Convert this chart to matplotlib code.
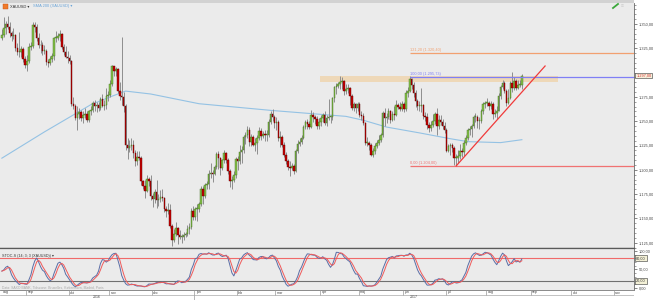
import matplotlib
matplotlib.use('Agg')
import matplotlib.pyplot as plt
from matplotlib.patches import Rectangle
from matplotlib.lines import Line2D
from matplotlib import ticker
import numpy as np
import pandas as pd

plt.rcParams['font.family'] = ['Liberation Sans', 'DejaVu Sans']

# XAUUSD daily candles, 15 Aug 2016 - 25 Aug 2017 (one row = one week)
opens = [
    1336, 1339, 1346, 1350, 1347,  1341, 1338, 1339, 1325, 1321,
    1321, 1324, 1314, 1308, 1312,  1326, 1327, 1349, 1347, 1336,
    1328, 1328, 1322, 1322, 1311,  1310, 1314, 1317, 1336, 1336,
    1338, 1340, 1326, 1321, 1316,  1315, 1312, 1268, 1266, 1253,
    1257, 1259, 1253, 1256, 1257,  1251, 1260, 1262, 1269, 1266,
    1267, 1264, 1273, 1266, 1267,  1276, 1277, 1288, 1307, 1302,
    1304, 1281, 1276, 1275, 1266,  1226, 1222, 1225, 1226, 1217,
    1209, 1213, 1212, 1189, 1183,  1178, 1191, 1188, 1173, 1170,
    1177, 1169, 1170, 1172, 1171,  1160, 1158, 1159, 1142, 1128,
    1134, 1140, 1133, 1131, 1131,  1133, 1134, 1139, 1141, 1158,
    1151, 1160, 1160, 1165, 1180,  1173, 1184, 1185, 1196, 1197,
    1196, 1203, 1216, 1212, 1202,  1210, 1217, 1210, 1199, 1188,
    1190, 1195, 1211, 1209, 1218,  1220, 1234, 1236, 1241, 1229,
    1234, 1226, 1228, 1233, 1240,  1235, 1237, 1236, 1236, 1249,
    1257, 1254, 1248, 1249, 1233,  1234, 1226, 1215, 1209, 1203,
    1202, 1204, 1199, 1219, 1227,  1229, 1233, 1244, 1249, 1247,
    1244, 1256, 1254, 1252, 1245,  1249, 1253, 1256, 1248, 1253,
    1254, 1254, 1274, 1285, 1286,  1288, 1290, 1291, 1281, 1283,
    1284, 1276, 1264, 1268, 1264,  1268, 1256, 1255, 1248, 1228,
    1228, 1226, 1215, 1219, 1225,  1228, 1231, 1236, 1258, 1253,
    1254, 1261, 1251, 1257, 1256,  1267, 1265, 1263, 1268, 1263,
    1279, 1281, 1293, 1287, 1279,  1271, 1266, 1266, 1267, 1255,
    1254, 1246, 1243, 1246, 1250,  1257, 1245, 1251, 1249, 1245,
    1241, 1219, 1224, 1226, 1222,  1212, 1212, 1214, 1219, 1218,
    1228, 1233, 1241, 1242, 1245,  1254, 1254, 1250, 1250, 1260,
    1268, 1269, 1269, 1266, 1268,  1257, 1258, 1261, 1276, 1285,
    1289, 1281, 1269, 1274, 1289,  1284, 1291, 1284, 1287, 1287,
]
highs = [
    1345, 1357, 1353, 1358, 1352,  1343, 1346, 1340, 1330, 1342,
    1327, 1326, 1317, 1318, 1330,  1331, 1352, 1352, 1350, 1341,
    1334, 1331, 1328, 1324, 1314,  1317, 1320, 1337, 1343, 1341,
    1344, 1341, 1329, 1327, 1322,  1318, 1313, 1275, 1268, 1266,
    1264, 1262, 1260, 1264, 1261,  1262, 1266, 1271, 1272, 1270,
    1270, 1275, 1278, 1272, 1284,  1281, 1292, 1308, 1307, 1306,
    1305, 1290, 1337, 1280, 1268,  1233, 1231, 1233, 1231, 1220,
    1219, 1219, 1214, 1190, 1190,  1195, 1193, 1195, 1176, 1180,
    1190, 1175, 1179, 1180, 1172,  1163, 1166, 1165, 1144, 1139,
    1146, 1141, 1138, 1134, 1136,  1136, 1143, 1145, 1161, 1163,
    1162, 1165, 1167, 1183, 1183,  1186, 1189, 1200, 1207, 1200,
    1205, 1218, 1219, 1213, 1211,  1220, 1218, 1212, 1201, 1194,
    1199, 1213, 1214, 1226, 1224,  1236, 1239, 1245, 1244, 1237,
    1236, 1233, 1236, 1244, 1243,  1240, 1241, 1241, 1252, 1260,
    1263, 1256, 1254, 1251, 1240,  1236, 1229, 1218, 1211, 1209,
    1207, 1206, 1221, 1231, 1233,  1236, 1246, 1251, 1252, 1250,
    1262, 1259, 1256, 1255, 1253,  1256, 1258, 1260, 1256, 1273,
    1256, 1275, 1286, 1289, 1290,  1296, 1295, 1292, 1288, 1288,
    1285, 1278, 1270, 1269, 1270,  1270, 1260, 1258, 1249, 1234,
    1230, 1228, 1222, 1228, 1231,  1236, 1238, 1260, 1264, 1258,
    1264, 1262, 1260, 1266, 1272,  1269, 1270, 1271, 1270, 1282,
    1285, 1296, 1294, 1290, 1282,  1273, 1271, 1284, 1268, 1259,
    1258, 1249, 1250, 1257, 1259,  1264, 1256, 1256, 1252, 1249,
    1243, 1227, 1228, 1228, 1225,  1216, 1220, 1227, 1222, 1231,
    1236, 1243, 1245, 1247, 1256,  1258, 1256, 1254, 1263, 1270,
    1271, 1274, 1271, 1271, 1270,  1263, 1266, 1279, 1287, 1292,
    1291, 1283, 1283, 1291, 1301,  1295, 1293, 1292, 1292, 1299,
]
lows = [
    1334, 1337, 1340, 1345, 1337,  1332, 1335, 1322, 1318, 1316,
    1316, 1311, 1305, 1302, 1310,  1323, 1325, 1342, 1332, 1325,
    1320, 1318, 1319, 1308, 1306,  1308, 1311, 1313, 1331, 1334,
    1333, 1324, 1318, 1315, 1310,  1309, 1266, 1263, 1251, 1241,
    1252, 1250, 1248, 1253, 1249,  1249, 1256, 1259, 1261, 1259,
    1261, 1262, 1265, 1262, 1263,  1271, 1275, 1286, 1297, 1296,
    1279, 1272, 1267, 1259, 1220,  1211, 1218, 1220, 1212, 1204,
    1205, 1210, 1184, 1180, 1171,  1177, 1183, 1169, 1162, 1166,
    1161, 1163, 1167, 1168, 1157,  1151, 1155, 1140, 1122, 1126,
    1132, 1124, 1129, 1125, 1128,  1131, 1132, 1134, 1139, 1148,
    1148, 1147, 1157, 1163, 1165,  1171, 1180, 1180, 1192, 1187,
    1195, 1201, 1201, 1195, 1200,  1207, 1207, 1196, 1182, 1180,
    1187, 1192, 1200, 1206, 1207,  1217, 1227, 1233, 1225, 1225,
    1224, 1219, 1216, 1231, 1231,  1233, 1230, 1230, 1234, 1247,
    1250, 1243, 1241, 1230, 1223,  1223, 1213, 1206, 1200, 1194,
    1200, 1196, 1198, 1217, 1224,  1227, 1232, 1242, 1242, 1242,
    1243, 1249, 1247, 1242, 1242,  1245, 1249, 1246, 1245, 1251,
    1248, 1251, 1270, 1278, 1284,  1283, 1283, 1277, 1278, 1279,
    1267, 1262, 1260, 1258, 1260,  1254, 1251, 1246, 1226, 1224,
    1220, 1214, 1213, 1216, 1222,  1226, 1229, 1234, 1245, 1248,
    1252, 1248, 1250, 1251, 1255,  1263, 1260, 1261, 1259, 1261,
    1275, 1280, 1283, 1275, 1265,  1262, 1261, 1259, 1252, 1250,
    1242, 1239, 1240, 1244, 1247,  1236, 1242, 1246, 1242, 1238,
    1218, 1218, 1215, 1218, 1205,  1204, 1207, 1211, 1213, 1214,
    1226, 1231, 1236, 1234, 1243,  1249, 1243, 1242, 1248, 1257,
    1264, 1266, 1262, 1263, 1252,  1254, 1252, 1260, 1273, 1283,
    1279, 1266, 1268, 1273, 1280,  1282, 1282, 1283, 1285, 1283,
]
closes = [
    1339, 1346, 1350, 1347, 1341,  1338, 1339, 1325, 1321, 1321,
    1324, 1314, 1308, 1312, 1326,  1327, 1349, 1347, 1336, 1328,
    1328, 1322, 1322, 1311, 1310,  1314, 1317, 1336, 1336, 1338,
    1340, 1326, 1321, 1316, 1315,  1312, 1268, 1266, 1253, 1257,
    1259, 1253, 1256, 1257, 1251,  1260, 1262, 1269, 1266, 1267,
    1264, 1273, 1266, 1267, 1276,  1277, 1288, 1307, 1302, 1304,
    1281, 1276, 1275, 1266, 1226,  1222, 1225, 1226, 1217, 1209,
    1213, 1212, 1189, 1183, 1178,  1191, 1188, 1173, 1170, 1177,
    1169, 1170, 1172, 1171, 1160,  1158, 1159, 1142, 1128, 1134,
    1140, 1133, 1131, 1131, 1133,  1134, 1139, 1141, 1158, 1151,
    1160, 1160, 1165, 1180, 1173,  1184, 1185, 1196, 1197, 1196,
    1203, 1216, 1212, 1202, 1210,  1217, 1210, 1199, 1188, 1190,
    1195, 1211, 1209, 1218, 1220,  1234, 1236, 1241, 1229, 1234,
    1226, 1228, 1233, 1240, 1235,  1237, 1236, 1236, 1249, 1257,
    1254, 1248, 1249, 1233, 1234,  1226, 1215, 1209, 1203, 1202,
    1204, 1199, 1219, 1227, 1229,  1233, 1244, 1249, 1247, 1244,
    1256, 1254, 1252, 1245, 1249,  1253, 1256, 1248, 1253, 1254,
    1254, 1274, 1285, 1286, 1288,  1290, 1291, 1281, 1283, 1284,
    1276, 1264, 1268, 1264, 1268,  1256, 1255, 1248, 1228, 1228,
    1226, 1215, 1219, 1225, 1228,  1231, 1236, 1258, 1253, 1254,
    1261, 1251, 1257, 1256, 1267,  1265, 1263, 1268, 1263, 1279,
    1281, 1293, 1287, 1279, 1271,  1266, 1266, 1267, 1255, 1254,
    1246, 1243, 1246, 1250, 1257,  1245, 1251, 1249, 1245, 1241,
    1219, 1224, 1226, 1222, 1212,  1212, 1214, 1219, 1218, 1228,
    1233, 1241, 1242, 1245, 1254,  1254, 1250, 1250, 1260, 1268,
    1269, 1269, 1266, 1268, 1257,  1258, 1261, 1276, 1285, 1289,
    1281, 1269, 1274, 1289, 1284,  1291, 1284, 1287, 1287, 1297,
]

# SMA 200 (bar number, value)
sma_bars = [0, 22, 46, 56, 64, 77, 92, 102, 140, 159, 178, 187, 199, 216, 232, 241, 258, 269]
sma_values = [1212, 1239, 1267, 1275, 1281, 1278, 1272, 1268, 1261, 1258, 1255, 1251, 1244, 1238, 1232, 1229, 1228, 1231]

# drawing tools
fib_start = '2017-06-06'
fib_levels = [1204.00, 1295.73, 1320.40]
fib_texts = ['0,00 (1.204,00)', '100,00 (1.295,73)', '121,20 (1.320,40)']
fib_colors = ['#f07272', '#7f7ff5', '#f2a070']
zone_dates = ['2017-04-03', '2017-09-21']
zone_prices = [1290.5, 1296.5]
trend_dates = ['2017-07-10', '2017-09-12']
trend_prices = [1204.0, 1306.8]

# 1.300,00 is hidden behind the last-price box in the reference
price_ticks = [1125, 1150, 1175, 1200, 1225, 1250, 1275, 1325, 1350]
month_names = ['jan', 'feb', 'mar', 'apr', 'maj', 'jun', 'jul', 'aug', 'sep', 'okt', 'nov', 'dec']

days = pd.bdate_range('2016-08-15', '2017-11-30')
def bar_of(d):
    return days.get_loc(pd.Timestamp(d))

W, H = 653.0, 300.0
fig = plt.figure(figsize=(6.53, 3.0), dpi=100, facecolor='white')
fig.add_artist(Rectangle((0, 1 - 3 / H), 634 / W, 3 / H, transform=fig.transFigure,
                         fc='#d2d2d2', ec='none'))

xlim = (-0.97, 327.0)
bg = '#ebebeb'

def money(v):
    s = '{:,.2f}'.format(v)
    return s.replace(',', '#').replace('.', ',').replace('#', '.')

# ---------- price panel ----------
ax = fig.add_axes([0, 1 - 248 / H, 634 / W, 245 / H], facecolor=bg)
ax.set_xlim(*xlim)
ax.set_ylim(1119.6, 1371.6)

x = np.arange(len(closes))
o = np.array(opens, float)
c = np.array(closes, float)
up = c >= o
ax.vlines(x, lows, highs, color='#8e8e8e', lw=0.7, zorder=3)
bot = np.minimum(o, c)
hgt = np.maximum(np.abs(c - o), 0.9)
ax.bar(x[up], hgt[up], bottom=bot[up], width=0.78, color='#86c24a',
       edgecolor='#3f6d1c', linewidth=0.3, zorder=4)
ax.bar(x[~up], hgt[~up], bottom=bot[~up], width=0.78, color='#c80000',
       edgecolor='#5a0000', linewidth=0.3, zorder=4)

ax.plot(sma_bars, sma_values, color='#94c2e4', lw=0.8, zorder=2)

z0, z1 = bar_of(zone_dates[0]), bar_of(zone_dates[1])
ax.add_patch(Rectangle((z0 - 0.5, zone_prices[0]), z1 - z0, zone_prices[1] - zone_prices[0],
                       fc='#efd6b3', ec='none', alpha=0.9, zorder=1))

fs = bar_of(fib_start)
for lvl, txt, col in zip(fib_levels, fib_texts, fib_colors):
    ax.hlines(lvl, fs, xlim[1], color=col, lw=0.9, zorder=5)
    ax.text(fs + 0.3, lvl + 0.8, txt, color=col, fontsize=2.8, va='bottom', ha='left', zorder=6)

ax.plot([bar_of(d) for d in trend_dates], trend_prices, color='#f03a3a', lw=0.9, zorder=6)

ax.yaxis.tick_right()
ax.set_yticks(price_ticks)
ax.yaxis.set_major_formatter(ticker.FuncFormatter(lambda v, p: money(v)))
ax.yaxis.set_minor_locator(ticker.MultipleLocator(5))
ax.tick_params(axis='y', which='major', length=2.5, width=0.5, color='#555555',
               labelsize=2.8, labelcolor='#444444', pad=1.2)
ax.tick_params(axis='y', which='minor', length=1.3, width=0.4, color='#555555')
ax.set_xticks([])
for s in ['top', 'left']:
    ax.spines[s].set_visible(False)
ax.spines['right'].set_color('#666666')
ax.spines['right'].set_linewidth(0.6)
ax.spines['bottom'].set_color('#5a5a5a')
ax.spines['bottom'].set_linewidth(0.9)

ax.annotate(money(closes[-1]), xy=(1, closes[-1]), xycoords=('axes fraction', 'data'),
            xytext=(1.6, 0), textcoords='offset points', va='center', ha='left',
            fontsize=2.8, color='#d23030',
            bbox=dict(boxstyle='square,pad=0.25', fc='#f6f0dc', ec='#333333', lw=0.4),
            annotation_clip=False, zorder=10)

# ---------- stochastic panel ----------
hh = pd.Series(highs, dtype=float).rolling(14, min_periods=1).max()
ll = pd.Series(lows, dtype=float).rolling(14, min_periods=1).min()
fast_k = 100 * (pd.Series(c) - ll) / (hh - ll)
stoch_k = fast_k.rolling(3, min_periods=1).mean()
stoch_d = stoch_k.rolling(3, min_periods=1).mean()

ax2 = fig.add_axes([0, 1 - 290 / H, 634 / W, 42 / H], facecolor=bg)
ax2.set_xlim(*xlim)
ax2.set_ylim(-5.5, 107.7)
ax2.axhline(80, color='#f06a6a', lw=0.8, zorder=1)
ax2.axhline(20, color='#707070', lw=0.8, zorder=1)
ax2.plot(x, stoch_k, color='#5a6da6', lw=0.7, zorder=3)
ax2.plot(x, stoch_d, color='#f05a5a', lw=0.7, zorder=3)
ax2.yaxis.tick_right()
ax2.set_yticks([0, 50, 100])
ax2.yaxis.set_major_formatter(ticker.FuncFormatter(lambda v, p: money(v)))
ax2.yaxis.set_minor_locator(ticker.MultipleLocator(10))
ax2.tick_params(axis='y', which='major', length=2.5, width=0.5, color='#555555',
                labelsize=2.8, labelcolor='#444444', pad=1.2)
ax2.tick_params(axis='y', which='minor', length=1.3, width=0.4, color='#555555')
ax2.set_xticks([])
for s in ['left', 'bottom']:
    ax2.spines[s].set_visible(False)
ax2.spines['top'].set_color('#5a5a5a')
ax2.spines['top'].set_linewidth(0.9)
ax2.spines['right'].set_color('#666666')
ax2.spines['right'].set_linewidth(0.6)
for lvl in [80, 20]:
    ax2.annotate(money(lvl), xy=(1, lvl), xycoords=('axes fraction', 'data'),
                 xytext=(1.6, 0), textcoords='offset points', va='center', ha='left',
                 fontsize=2.8, color='#333333',
                 bbox=dict(boxstyle='square,pad=0.25', fc='#f3f0d6', ec='#333333', lw=0.4),
                 annotation_clip=False)

# ---------- date rows ----------
ax3 = fig.add_axes([0, 0, 634 / W, 10 / H], facecolor='white')
ax3.set_xlim(*xlim)
ax3.set_ylim(0, 2)
ax3.axis('off')
ax3.axhline(2, color='#777777', lw=0.6)
ax3.axhline(1, color='#aaaaaa', lw=0.5)
ax3.axhline(0, color='#aaaaaa', lw=0.5)
ax3.axvline(xlim[1], color='#777777', lw=0.6)
ax3.text(0.3, 1.5, month_names[days[0].month - 1], fontsize=2.6, color='#444444', va='center')
year_start = None
for i in range(1, len(days)):
    if days[i].month != days[i - 1].month:
        pos = i - 0.5
        if pos > xlim[1]:
            break
        ax3.vlines(pos, 1, 2, color='#999999', lw=0.5)
        ax3.text(pos + 0.8, 1.5, month_names[days[i].month - 1], fontsize=2.6,
                 color='#444444', va='center')
        if days[i].year != days[i - 1].year:
            year_start = pos
ax3.vlines(year_start, 0, 1, color='#999999', lw=0.5)
ax3.text((xlim[0] + year_start) / 2, 0.5, str(days[0].year), fontsize=2.6, color='#444444',
         va='center', ha='center')
ax3.text((year_start + xlim[1]) / 2, 0.5, str(days[-1].year), fontsize=2.6, color='#444444',
         va='center', ha='center')

# ---------- header texts ----------
fig.add_artist(Rectangle((3 / W, 1 - 9 / H), 5 / W, 5 / H, transform=fig.transFigure,
                         fc='#f07a2a', ec='#c85010', lw=0.3))
fig.text(10 / W, 1 - 6.5 / H, 'XAUUSD \u25be', fontsize=2.9, color='#333333', va='center')
fig.text(33 / W, 1 - 6.5 / H, 'SMA 200 (XAUUSD) \u25be', fontsize=2.9, color='#6aa4d8', va='center')
fig.add_artist(Line2D([613 / W, 618 / W], [1 - 8 / H, 1 - 4 / H], transform=fig.transFigure,
                      color='#3aa83a', lw=1.3))
fig.text(621 / W, 1 - 6 / H, '\u2261', fontsize=3.5, color='#c8c8c8', va='center')
fig.text(2 / W, 1 - 255.5 / H, 'STOC-S (14; 3; 3 (XAUUSD)) \u25be', fontsize=2.7,
         color='#333333', va='center')
fig.text(2 / W, 1 - 287.3 / H, 'Data: SAXO BANK, Tidszone: Bruxelles, K\u00f8benhavn, Madrid, Paris',
         fontsize=2.4, color='#a8a8a8', va='center')

fig.savefig('out.png', dpi=100, facecolor='white')
